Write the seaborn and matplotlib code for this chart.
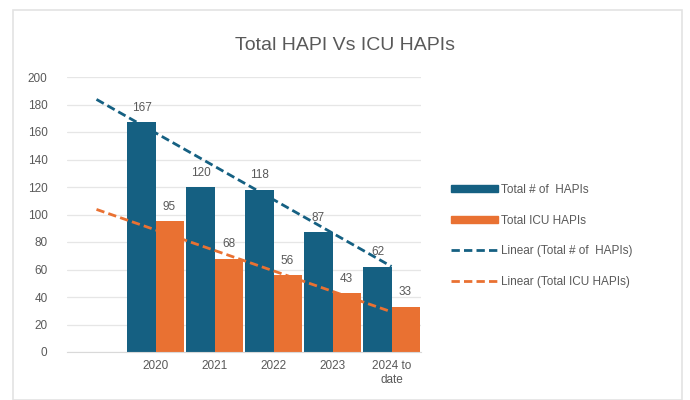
import numpy as np
import pandas as pd
import matplotlib.pyplot as plt
import seaborn as sns
from matplotlib.patches import Rectangle, Patch
from matplotlib.lines import Line2D

# chart data (first category left blank, like the original sheet)
categories = ["", "2020", "2021", "2022", "2023", "2024 to\ndate"]
years = ["2020", "2021", "2022", "2023", "2024 to\ndate"]
total_hapis = [167, 120, 118, 87, 62]
icu_hapis = [95, 68, 56, 43, 33]
series_names = ["Total # of  HAPIs", "Total ICU HAPIs"]

blue = "#156082"
orange = "#E97132"
grey = "#595959"

df = pd.DataFrame({
    "year": years * 2,
    "count": total_hapis + icu_hapis,
    "series": [series_names[0]] * len(years) + [series_names[1]] * len(years),
})

sns.set_style("white")
plt.rcParams["font.family"] = ["Liberation Sans", "DejaVu Sans"]

fig = plt.figure(figsize=(6.9, 4.0), dpi=100)
fig.patches.append(Rectangle((13 / 690, 0), 669 / 690, 390 / 400, transform=fig.transFigure,
                             fill=False, edgecolor="#e3e3e3", linewidth=1.2))
ax = fig.add_axes([67 / 690, 48 / 400, 354 / 690, 275 / 400])

sns.barplot(data=df, x="year", y="count", hue="series", order=categories,
            palette=[blue, orange], width=0.95, saturation=1, linewidth=0,
            ax=ax, legend=False)

for cont in ax.containers:
    ax.bar_label(cont, fmt="%d", padding=6, fontsize=8.5, color=grey)

# linear trendlines (fit on category positions, extended back to the blank slot)
xs_fit = np.arange(1, len(categories))
xs_line = np.arange(0, len(categories))
for vals, col in [(total_hapis, blue), (icu_hapis, orange)]:
    m, b = np.polyfit(xs_fit, vals, 1)
    ax.plot(xs_line, m * xs_line + b, color=col, linestyle=(0, (3, 1.5)), linewidth=2)

ax.set_xlim(-0.5, len(categories) - 0.5)
ax.set_ylim(0, 200)
ax.set_yticks(range(0, 201, 20))
ax.grid(axis="y", color="#e6e6e6", linewidth=0.9)
ax.set_axisbelow(True)
ax.set_xlabel("")
ax.set_ylabel("")
for s in ["top", "right", "left"]:
    ax.spines[s].set_visible(False)
ax.spines["bottom"].set_color("#d9d9d9")
ax.tick_params(axis="both", length=0, labelsize=8.5, colors=grey, pad=6)
ax.tick_params(axis="y", pad=14)

fig.text(0.5, 0.885, "Total HAPI Vs ICU HAPIs", ha="center", va="center",
         fontsize=14, color=grey)

handles = [
    Patch(facecolor=blue, edgecolor=blue),
    Patch(facecolor=orange, edgecolor=orange),
    Line2D([0], [0], color=blue, linestyle=(0, (3, 1.5)), linewidth=2),
    Line2D([0], [0], color=orange, linestyle=(0, (3, 1.5)), linewidth=2),
]
labels = series_names + ["Linear (Total # of  HAPIs)", "Linear (Total ICU HAPIs)"]
leg = fig.legend(handles, labels, loc="upper left", bbox_to_anchor=(440 / 690, 1 - 173 / 400),
                 frameon=False, fontsize=8.5, labelcolor=grey, handlelength=4.0,
                 handleheight=0.6, labelspacing=1.6, handletextpad=0.3)

fig.savefig("out.png", dpi=100, facecolor="white")
